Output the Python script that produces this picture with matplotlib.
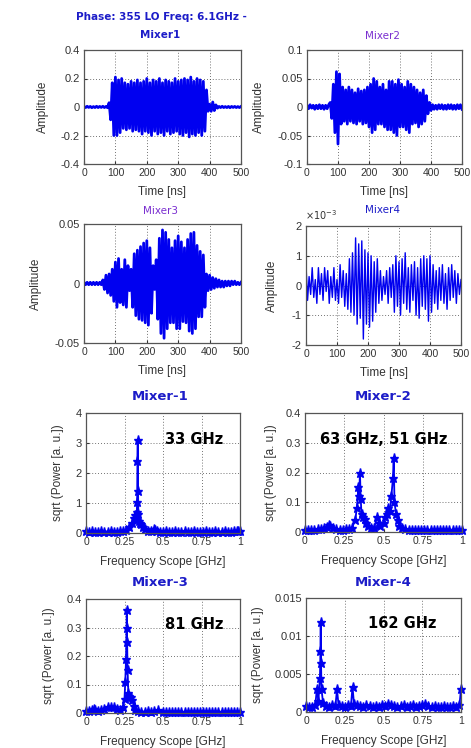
"""Mixer outputs: time traces (top) and sqrt power spectra (bottom)."""

import matplotlib

matplotlib.use("Agg")
import matplotlib.pyplot as plt
import numpy as np

W, H = 471, 748

# ---- time-domain traces, sampled every 5 ns from 0 to 500 ns ----
mixer1_amp = [
    0.004, -0.004, 0.005, -0.003, 0.004, -0.005, 0.003, -0.004, 0.005, -0.004,
    0.004, -0.003, 0.005, -0.004, 0.004, -0.005,
    0.03, -0.09, 0.17, -0.2, 0.21, -0.2, 0.19, -0.18, 0.2, -0.15,
    0.17, -0.16, 0.16, -0.15, 0.18, -0.17, 0.17, -0.16, 0.19, -0.17,
    0.17, -0.19, 0.18, -0.17, 0.2, -0.18, 0.17, -0.2, 0.19, -0.17,
    0.18, -0.19, 0.2, -0.18, 0.17, -0.2, 0.19, -0.17, 0.18, -0.19,
    0.17, -0.18, 0.2, -0.17, 0.18, -0.19, 0.19, -0.2, 0.2, -0.18,
    0.19, -0.21, 0.21, -0.19, 0.18, -0.2, 0.2, -0.18, 0.19, -0.2,
    0.18, -0.17, 0.12, -0.03, 0.02, -0.03, 0.035, -0.025, 0.015, -0.008,
    0.004, -0.004, 0.005, -0.004, 0.003, -0.004, 0.004, -0.005, 0.004, -0.003,
    0.004, -0.004, 0.003, -0.004, 0.004,
]
mixer2_amp = [
    0.003, -0.003, 0.004, -0.002, 0.003, -0.004, 0.003, -0.003, 0.004, -0.003,
    0.003, -0.004, 0.003, -0.003, 0.004,
    0.008, -0.02, 0.04, -0.045, 0.062, -0.065, 0.058, -0.03, 0.035, -0.025,
    0.03, -0.03, 0.035, -0.025, 0.03, -0.028, 0.025, -0.03, 0.032, -0.025,
    0.028, -0.03, 0.03, -0.028, 0.035, -0.035, 0.04, -0.045, 0.05, -0.04,
    0.045, -0.03, 0.035, -0.03, 0.04, -0.035, 0.03, -0.04, 0.045, -0.04,
    0.045, -0.045, 0.04, -0.05, 0.048, -0.035, 0.04, -0.035, 0.035, -0.04,
    0.045, -0.045, 0.04, -0.03, 0.035, -0.028, 0.03, -0.035, 0.025, -0.03,
    0.03, -0.025, 0.02, -0.012, 0.008, -0.006,
    0.004, -0.004, 0.003, -0.004, 0.004, -0.003, 0.004, -0.004, 0.003, -0.004,
    0.004, -0.003, 0.004, -0.004, 0.003, -0.004, 0.004, -0.003, 0.004, -0.004,
]
mixer3_amp = [
    0.001, -0.001, 0.001, -0.001, 0.001, -0.001, 0.001, -0.001, 0.001, -0.001,
    0.001, -0.001,
    0.003, -0.005, 0.007, -0.008, 0.008, -0.01, 0.012, -0.015, 0.018, -0.02,
    0.021, -0.016, 0.012, -0.018, 0.02, -0.02, 0.015, -0.006, 0.012, -0.02,
    0.025, -0.027, 0.028, -0.03, 0.031, -0.031, 0.034, -0.033, 0.036, -0.035,
    0.03, -0.025, 0.015, -0.005, 0.02, -0.03, 0.038, -0.042, 0.045, -0.046,
    0.043, -0.038, 0.037, -0.033, 0.03, -0.033, 0.036, -0.038, 0.04, -0.038,
    0.035, -0.032, 0.03, -0.033, 0.037, -0.04, 0.042, -0.042, 0.043, -0.038,
    0.032, -0.028, 0.027, -0.028, 0.024, -0.02, 0.008, -0.006, 0.007, -0.005,
    0.005, -0.004, 0.004, -0.003,
    0.003, -0.003, 0.002, -0.003, 0.002, -0.002, 0.002, -0.002, 0.002, -0.001,
    0.002, -0.001, 0.001, -0.001, 0.001,
]
# Mixer4 is stored in units of 1e-3
mixer4_amp_milli = [
    0.7, -0.5, 0.3, -0.3, 0.6, -0.4, 0.2, -0.6, 0.6, -0.3,
    0.4, -0.5, 0.6, -0.2, 0.5, -0.6, 0.3, -0.4, 0.6, -0.5,
    0.2, -0.6, 0.7, -0.4, 0.5, -0.7, 0.4, -0.8, 0.9, -0.9,
    1.1, -1.0, 1.6, -1.3, 1.4, -1.1, 1.5, -1.8, 1.2, -1.3,
    1.1, -1.4, 1.0, -1.2, 0.8, -0.9, 0.9, -0.6, 0.5, -0.5,
    0.3, -0.3, 0.5, -0.6, 0.6, -0.4, 0.7, -0.9, 1.0, -0.7,
    0.8, -1.0, 0.9, -0.6, 1.1, -0.8, 0.6, -0.9, 0.7, -0.5,
    0.8, -1.0, 0.6, -1.1, 0.9, -0.7, 1.0, -0.8, 0.9, -1.2,
    1.0, -0.9, 0.7, -0.6, 0.5, -0.8, 0.6, -0.5, 0.7, -0.6,
    0.4, -0.8, 0.6, -0.5, 0.7, -0.4, 0.5, -0.6, 0.4, -0.3,
    0.2,
]

# ---- spectra: frequency [GHz] and sqrt(power) ----
spec1_freq = [0, 0.02, 0.04, 0.06, 0.08, 0.10, 0.12, 0.14, 0.16, 0.18, 0.20, 0.22,
              0.24, 0.26, 0.28, 0.30, 0.31, 0.32, 0.325, 0.33, 0.332, 0.334, 0.336,
              0.338, 0.34, 0.345, 0.35, 0.36, 0.37, 0.38, 0.40, 0.42, 0.44, 0.45,
              0.46, 0.48, 0.50, 0.52, 0.54, 0.56, 0.58, 0.60, 0.62, 0.64, 0.66,
              0.68, 0.70, 0.72, 0.74, 0.76, 0.78, 0.80, 0.82, 0.84, 0.86, 0.88,
              0.90, 0.92, 0.94, 0.96, 0.98, 0.99, 1.0]
spec1_amp = [0.06, 0.05, 0.06, 0.05, 0.05, 0.06, 0.05, 0.05, 0.06, 0.05, 0.05, 0.06,
             0.07, 0.1, 0.2, 0.35, 0.5, 0.6, 0.45, 0.7, 1.05, 2.4, 3.1,
             1.4, 0.65, 0.4, 0.35, 0.3, 0.2, 0.12, 0.08, 0.07, 0.15, 0.1,
             0.06, 0.05, 0.05, 0.06, 0.05, 0.05, 0.06, 0.05, 0.05, 0.06, 0.05,
             0.05, 0.06, 0.05, 0.05, 0.05, 0.06, 0.05, 0.05, 0.06, 0.05, 0.05,
             0.06, 0.05, 0.05, 0.06, 0.07, 0.08, 0.06]

spec2_freq = [0, 0.02, 0.04, 0.06, 0.08, 0.10, 0.12, 0.14, 0.15, 0.16, 0.18, 0.20,
              0.22, 0.24, 0.26, 0.28, 0.30, 0.32, 0.33, 0.34, 0.345, 0.35, 0.355,
              0.36, 0.37, 0.38, 0.39, 0.40, 0.42, 0.44, 0.46, 0.47, 0.48, 0.50,
              0.51, 0.52, 0.53, 0.54, 0.55, 0.56, 0.565, 0.57, 0.58, 0.59, 0.60,
              0.62, 0.64, 0.66, 0.68, 0.70, 0.72, 0.74, 0.76, 0.78, 0.80, 0.82,
              0.84, 0.86, 0.88, 0.90, 0.92, 0.94, 0.96, 0.98, 1.0]
spec2_amp = [0.008, 0.007, 0.008, 0.007, 0.009, 0.01, 0.012, 0.018, 0.022, 0.02, 0.012,
             0.009, 0.008, 0.008, 0.009, 0.01, 0.015, 0.04, 0.08, 0.15, 0.12, 0.2,
             0.11, 0.06, 0.05, 0.045, 0.03, 0.02, 0.012, 0.015, 0.05, 0.03, 0.02,
             0.03, 0.05, 0.06, 0.08, 0.07, 0.12, 0.18, 0.25, 0.1, 0.06, 0.04, 0.02,
             0.012, 0.009, 0.008, 0.007, 0.008, 0.007, 0.008, 0.007, 0.008, 0.007,
             0.006, 0.007, 0.008, 0.007, 0.006, 0.007, 0.006, 0.007, 0.006, 0.007]

spec3_freq = [0, 0.02, 0.04, 0.05, 0.06, 0.08, 0.10, 0.12, 0.14, 0.16, 0.18, 0.20,
              0.22, 0.24, 0.25, 0.255, 0.26, 0.263, 0.265, 0.267, 0.27, 0.275,
              0.28, 0.29, 0.30, 0.31, 0.32, 0.34, 0.36, 0.38, 0.40, 0.42, 0.44,
              0.47, 0.50, 0.52, 0.54, 0.56, 0.58, 0.60, 0.62, 0.64, 0.66, 0.68,
              0.70, 0.72, 0.74, 0.76, 0.78, 0.80, 0.82, 0.84, 0.86, 0.88, 0.90,
              0.92, 0.94, 0.96, 0.98, 1.0]
spec3_amp = [0.006, 0.008, 0.012, 0.015, 0.012, 0.008, 0.01, 0.015, 0.02, 0.022,
             0.02, 0.015, 0.012, 0.02, 0.05, 0.11, 0.19, 0.3, 0.36, 0.25, 0.15,
             0.07, 0.06, 0.055, 0.045, 0.025, 0.012, 0.006, 0.005, 0.005, 0.006,
             0.005, 0.006, 0.01, 0.005, 0.004, 0.004, 0.003, 0.004, 0.004, 0.003,
             0.004, 0.003, 0.004, 0.003, 0.004, 0.003, 0.004, 0.003, 0.003, 0.004,
             0.003, 0.004, 0.003, 0.003, 0.004, 0.003, 0.004, 0.003, 0.003]

spec4_freq = [0, 0.02, 0.04, 0.06, 0.07, 0.08, 0.09, 0.093, 0.095, 0.097, 0.10,
              0.11, 0.13, 0.15, 0.17, 0.19, 0.20, 0.21, 0.23, 0.25, 0.27, 0.29,
              0.30, 0.31, 0.33, 0.35, 0.37, 0.39, 0.41, 0.43, 0.45, 0.47, 0.49,
              0.51, 0.53, 0.55, 0.57, 0.59, 0.61, 0.63, 0.65, 0.67, 0.69, 0.71,
              0.73, 0.75, 0.77, 0.79, 0.81, 0.83, 0.85, 0.87, 0.89, 0.91, 0.93,
              0.95, 0.97, 0.99, 1.0]
spec4_amp = [0.0008, 0.0006, 0.0007, 0.0009, 0.003, 0.0015, 0.0045, 0.008, 0.0118,
             0.0065, 0.003, 0.0012, 0.0008, 0.0007, 0.0009, 0.0008, 0.003, 0.0009,
             0.0008, 0.0007, 0.0009, 0.0008, 0.0033, 0.001, 0.0009, 0.0008, 0.0007,
             0.0009, 0.0008, 0.0007, 0.0008, 0.0006, 0.0009, 0.0008, 0.001, 0.0009,
             0.0008, 0.0007, 0.0008, 0.0009, 0.0007, 0.0008, 0.0009, 0.0007, 0.0008,
             0.0009, 0.001, 0.0008, 0.0007, 0.0008, 0.0007, 0.0006, 0.0008, 0.0007,
             0.0006, 0.0008, 0.0007, 0.0009, 0.003]

time_ticks = [0, 100, 200, 300, 400, 500]
freq_ticks = [0, 0.25, 0.5, 0.75, 1]
freq_ticklabels = ["0", "0.25", "0.5", "0.75", "1"]

BLUE = "#0000f0"
TITLE_BLUE = "#1c1cc8"
PURPLE = "#7a2ed0"
TICK_FONT = "Liberation Sans"


def px_axes(fig, left, right, top, bottom):
    return fig.add_axes([left / W, 1 - bottom / H, (right - left) / W, (bottom - top) / H])


def style(ax, yticks, yticklabels):
    ax.set_yticks(yticks)
    ax.set_yticklabels(yticklabels)
    ax.tick_params(direction="in", labelsize=8, length=2.5, colors="#333333",
                   labelcolor="#333333", pad=3)
    ax.tick_params(axis="x", pad=3, labelsize=7.5)
    for lab in ax.get_xticklabels() + ax.get_yticklabels():
        lab.set_family(TICK_FONT)
    ax.grid(True, linestyle=(0, (1, 2.5)), color="#444444", linewidth=0.6)
    for sp in ax.spines.values():
        sp.set_color("#555555")
        sp.set_linewidth(0.9)


def set_ylabel_px(ax, text, x_px, left, right):
    ax.set_ylabel(text, fontsize=8.5, family=TICK_FONT, color="#333333")
    ax.yaxis.set_label_coords((x_px - left) / (right - left), 0.5)


def time_panel(fig, box, amp, ylim, yticks, ylabels, ylab_x, lw):
    left, right, top, bottom = box
    ax = px_axes(fig, left, right, top, bottom)
    t = np.linspace(0, 500, len(amp))
    ax.plot(t, amp, color=BLUE, linewidth=lw)
    ax.set_xlim(0, 500)
    ax.set_ylim(*ylim)
    ax.set_xticks(time_ticks)
    style(ax, yticks, ylabels)
    set_ylabel_px(ax, "Amplitude", ylab_x, left, right)
    fig.text((left + right) / 2 / W, 1 - (bottom + 28) / H, "Time [ns]", ha="center",
             va="center", fontsize=8.5, family=TICK_FONT, color="#333333")
    return ax


def spec_panel(fig, box, freq, amp, ylim, yticks, ylabels, ylab_x, note, note_x):
    left, right, top, bottom = box
    ax = px_axes(fig, left, right, top, bottom)
    ax.plot(freq, amp, color=BLUE, linewidth=1.3, marker="*", markersize=6.5,
            clip_on=False)
    ax.set_xlim(0, 1)
    ax.set_ylim(*ylim)
    ax.set_xticks(freq_ticks)
    ax.set_xticklabels(freq_ticklabels)
    style(ax, yticks, ylabels)
    set_ylabel_px(ax, "sqrt (Power [a. u.])", ylab_x, left, right)
    ax.text(note_x, 0.78, note, transform=ax.transAxes, fontsize=10.5, fontweight="bold",
            ha="left", va="center", color="black")
    fig.text((left + right) / 2 / W, 1 - (bottom + 29) / H, "Frequency Scope [GHz]",
             ha="center", va="center", fontsize=8.5, family=TICK_FONT, color="#333333")
    return ax


fig = plt.figure(figsize=(W / 100, H / 100), dpi=100)

time_panel(fig, (84, 241, 50, 164), mixer1_amp, (-0.4, 0.4),
           [-0.4, -0.2, 0, 0.2, 0.4], ["-0.4", "-0.2", "0", "0.2", "0.4"], 49, 2.0)
time_panel(fig, (307, 462, 50, 164), mixer2_amp, (-0.1, 0.1),
           [-0.1, -0.05, 0, 0.05, 0.1], ["-0.1", "-0.05", "0", "0.05", "0.1"], 265, 2.0)
time_panel(fig, (84, 241, 224, 343), mixer3_amp, (-0.05, 0.05),
           [-0.05, 0, 0.05], ["-0.05", "0", "0.05"], 42, 2.0)
time_panel(fig, (306, 461, 226, 345), mixer4_amp_milli, (-2, 2),
           [-2, -1, 0, 1, 2], ["-2", "-1", "0", "1", "2"], 278, 1.0)

spec_panel(fig, (86, 240, 413, 533), spec1_freq, spec1_amp, (0, 4),
           [0, 1, 2, 3, 4], ["0", "1", "2", "3", "4"], 64, "33 GHz", 0.51)
spec_panel(fig, (305, 462, 413, 532), spec2_freq, spec2_amp, (0, 0.4),
           [0, 0.1, 0.2, 0.3, 0.4], ["0", "0.1", "0.2", "0.3", "0.4"], 277,
           "63 GHz, 51 GHz", 0.095)
spec_panel(fig, (86, 240, 599, 713), spec3_freq, spec3_amp, (0, 0.4),
           [0, 0.1, 0.2, 0.3, 0.4], ["0", "0.1", "0.2", "0.3", "0.4"], 55, "81 GHz", 0.51)
spec_panel(fig, (306, 461, 598, 712), spec4_freq, spec4_amp, (0, 0.015),
           [0, 0.005, 0.01, 0.015], ["0", "0.005", "0.01", "0.015"], 264, "162 GHz", 0.40)


def title(x, y, s, color, size, weight):
    fig.text(x / W, 1 - y / H, s, ha="center", va="center", color=color,
             fontsize=size, fontweight=weight)


title(161, 17, "Phase: 355 LO Freq: 6.1GHz -", TITLE_BLUE, 7.5, "bold")
title(160, 35, "Mixer1", TITLE_BLUE, 7.5, "bold")
title(383, 36, "Mixer2", PURPLE, 7.5, "normal")
title(160, 211, "Mixer3", PURPLE, 7.5, "normal")
title(382, 210, "Mixer4", TITLE_BLUE, 7.5, "normal")
fig.text(305 / W, 1 - 215 / H, r"$\times10^{-3}$", ha="left", va="center",
         fontsize=7, color="#333333")
title(160, 396, "Mixer-1", TITLE_BLUE, 9.5, "bold")
title(383, 396, "Mixer-2", TITLE_BLUE, 9.5, "bold")
title(160, 582, "Mixer-3", TITLE_BLUE, 9.5, "bold")
title(383, 582, "Mixer-4", TITLE_BLUE, 9.5, "bold")

fig.savefig("out.png", dpi=100)
